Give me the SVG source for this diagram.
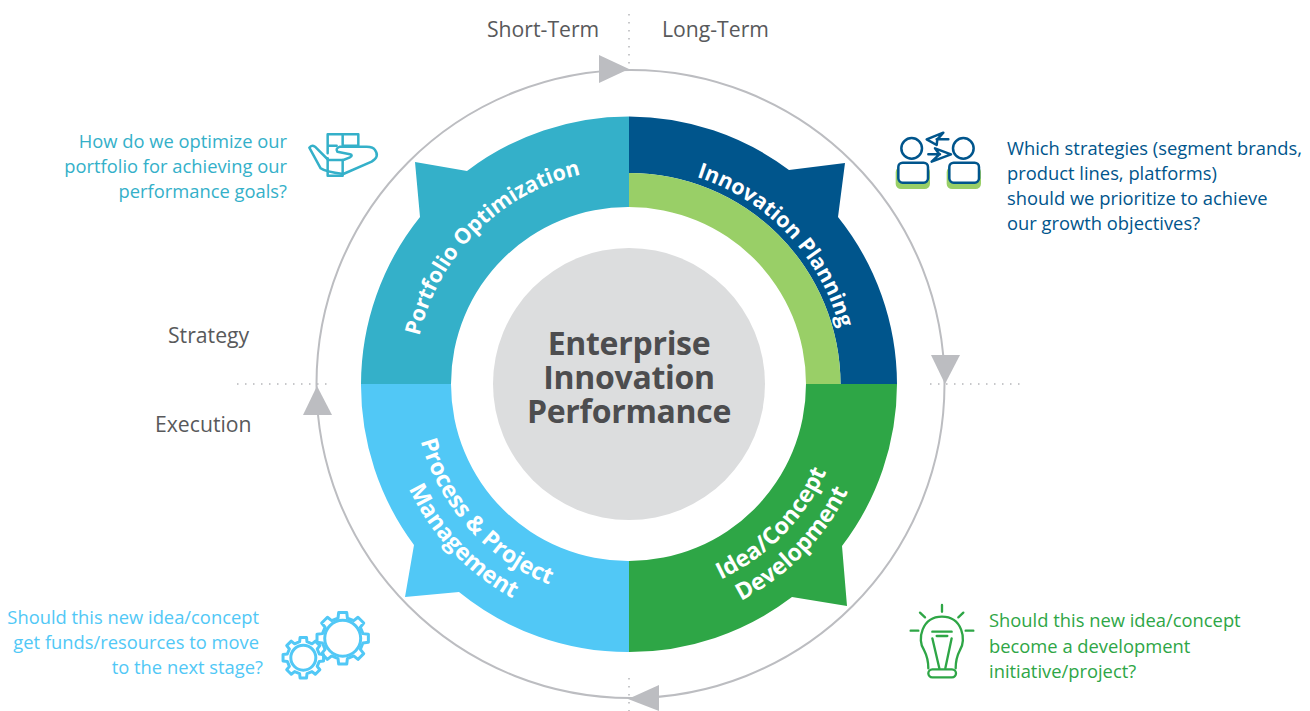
<svg xmlns="http://www.w3.org/2000/svg" xmlns:xlink="http://www.w3.org/1999/xlink" width="1310" height="711" viewBox="0 0 1310 711">
<style>
text{font-family:"Open Sans","Liberation Sans",sans-serif}
.axis{font-size:21.200px;fill:#58595b}
.q{font-size:18.350px}
.seg{font-size:23.200px;font-weight:700;fill:#fff;text-anchor:middle}
.top{font-size:21.500px}
.center{font-size:32px;font-weight:700;fill:#4d4d4f;text-anchor:middle;letter-spacing:-.3px}
.dot{fill:none;stroke:#b5b6b9;stroke-width:1.5;stroke-dasharray:1.5 6.5}
.head{fill:#bcbdc1}
.ic{fill:none;stroke-linecap:round;stroke-linejoin:round}
</style>
<defs>
<path id="t215" d="M464.3 245.8A215 215 0 0 1 793.7 245.8"/>
<path id="t218" d="M462 243.9A218 218 0 0 1 796 243.9"/>
<path id="b216" d="M463.5 522.8A216 216 0 0 0 794.5 522.8"/>
<path id="b244" d="M442.1 540.8A244 244 0 0 0 815.9 540.8"/>
<path id="gear" vector-effect="non-scaling-stroke" d="M98.8-15.6L98.8 15.6 78 18 67.8 42.4 80.9 58.8 58.8 80.9 42.4 67.8 18 78 15.6 98.8-15.6 98.8-18 78-42.4 67.8-58.8 80.9-80.9 58.8-67.8 42.4-78 18-98.8 15.6-98.8-15.6-78-18-67.8-42.4-80.9-58.8-58.8-80.9-42.4-67.8-18-78-15.6-98.8 15.6-98.8 18-78 42.4-67.8 58.8-80.9 80.9-58.8 67.8-42.4 78-18Z"/>
</defs>
<rect width="1310" height="711" fill="#fff"/>
<g id="connectors">
<path class="dot" d="M629 14V68M629 678V711M237 384H333M930 384H1025"/>
<circle cx="630.500" cy="384" r="314" fill="none" stroke="#bcbdc1" stroke-width="2"/>
<polygon class="head" points="599,55 629,69 599,83"/>
<polygon class="head" points="931,355 960,355 945,384"/>
<polygon class="head" points="628,699 659,685 659,711"/>
<polygon class="head" points="303,415 332,415 317,386"/>
</g>
<g id="portfolio-optimization">
<path fill="#34b0c9" d="M361 384A268 268 0 0 1 420 217L415 162 467 171A268 268 0 0 1 629 116.500V207A177 177 0 0 0 451 384Z"/>
<text class="seg top" transform="rotate(-45 629 384)"><textPath href="#t215" startOffset="50%">Portfolio Optimization</textPath></text>
<g class="ic" stroke="#34b0c9" stroke-width="7.500" transform="translate(300 125) scale(.3333)">
<path d="M83 85V28H175V65M128 28V62M83 62H110M83 100V152H128V105M128 62H175"/>
<path d="M28 68L62 130Q75 140 130 147L215 110Q240 95 225 75Q220 65 200 65H120Q105 70 112 80L150 88Q160 90 150 97L130 105H85L45 65Q35 58 28 68Z"/>
</g>
<text class="q" fill="#34b0c9" text-anchor="end"><tspan x="287" y="148">How do we optimize our</tspan><tspan x="287" y="173">portfolio for achieving our</tspan><tspan x="287" y="198">performance goals?</tspan></text>
</g>
<g id="innovation-planning">
<path fill="#00558c" d="M629 116.500A268 268 0 0 1 789 170L845 163 838 217A268 268 0 0 1 897 384H840.500A211.500 211.500 0 0 0 629 173Z"/>
<path fill="#99cf67" d="M629 173A211.500 211.500 0 0 1 840.500 384H806A177 177 0 0 0 629 207Z"/>
<text class="seg top" transform="rotate(46.600 629 384)"><textPath href="#t218" startOffset="50%">Innovation Planning</textPath></text>
<g class="ic" transform="translate(880 120) scale(.3333)">
<rect x="47" y="140" width="103" height="67" rx="16" fill="#99cf67" stroke="none"/>
<rect x="200" y="140" width="103" height="67" rx="16" fill="#99cf67" stroke="none"/>
<g stroke="#00558c" stroke-width="7.500">
<circle cx="95" cy="85" r="31"/><circle cx="250" cy="85" r="31"/>
<rect x="55" y="128" width="89" height="60" rx="13" fill="#fff"/>
<rect x="208" y="128" width="89" height="60" rx="13" fill="#fff"/>
<path d="M205 58H170M190 38L140 58 170 75 172 58ZM145 103H180M165 85L213 103 155 125 178 103Z"/>
</g>
</g>
<text class="q" fill="#00558c"><tspan x="1007" y="155">Which strategies (segment brands,</tspan><tspan x="1007" y="180">product lines, platforms)</tspan><tspan x="1007" y="205">should we prioritize to achieve</tspan><tspan x="1007" y="230">our growth objectives?</tspan></text>
</g>
<g id="idea-concept-development">
<path fill="#2ea646" d="M897 384A268 268 0 0 1 842 546L847 606 792 597A268 268 0 0 1 629 652V561A177 177 0 0 0 806 384Z"/>
<text class="seg" transform="rotate(-45.600 629 384)"><textPath href="#b216" startOffset="50%">Idea/Concept</textPath></text>
<text class="seg" transform="rotate(-45.600 629 384)"><textPath href="#b244" startOffset="50%">Development</textPath></text>
<g class="ic" stroke="#2ea646" stroke-width="7" transform="translate(900 600) scale(.3333)">
<path d="M126 15V35M60 38L75 52M190 38L175 52M32 92H55M197 92H220"/>
<path d="M85 205Q85 175 72 150C50 120 65 50 126 50C187 50 200 120 180 150Q167 175 167 205"/>
<rect x="85" y="208" width="83" height="24" rx="12"/>
<path d="M97 115L118 205M155 115L136 205M97 95H155M110 108H142"/>
</g>
<text class="q" fill="#2ea646"><tspan x="989" y="627">Should this new idea/concept</tspan><tspan x="989" y="653">become a development</tspan><tspan x="989" y="678">initiative/project?</tspan></text>
</g>
<g id="process-project-management">
<path fill="#51c8f6" d="M629 652A268 268 0 0 1 459 592L405 597 414 545A268 268 0 0 1 361 384H451A177 177 0 0 0 629 561Z"/>
<text class="seg" transform="rotate(48.200 629 384)"><textPath href="#b216" startOffset="50%">Process &amp; Project</textPath></text>
<text class="seg" transform="rotate(46.500 629 384)"><textPath href="#b244" startOffset="50%">Management</textPath></text>
<g fill="none" stroke="#51c8f6" stroke-width="3" stroke-linejoin="round">
<use href="#gear" transform="translate(342.700 638.300) scale(.26)"/>
<circle cx="342.700" cy="638.300" r="18"/>
<use href="#gear" transform="translate(303.300 657.700) scale(.205)"/>
<circle cx="303.300" cy="657.700" r="12.500"/>
</g>
<text class="q" fill="#51c8f6" text-anchor="end"><tspan x="259" y="624">Should this new idea/concept</tspan><tspan x="259" y="649">get funds/resources to move</tspan><tspan x="263" y="674">to the next stage?</tspan></text>
</g>
<g id="enterprise-innovation-performance">
<circle cx="629" cy="384" r="136" fill="#dcddde"/>
<text class="center"><tspan x="629" y="355">Enterprise</tspan><tspan x="629" y="389">Innovation</tspan><tspan x="629" y="423">Performance</tspan></text>
</g>
<g id="axis-labels">
<text class="axis" x="487" y="37">Short-Term</text>
<text class="axis" x="662" y="37">Long-Term</text>
<text class="axis" x="168" y="343">Strategy</text>
<text class="axis" x="155" y="432">Execution</text>
</g>
</svg>
